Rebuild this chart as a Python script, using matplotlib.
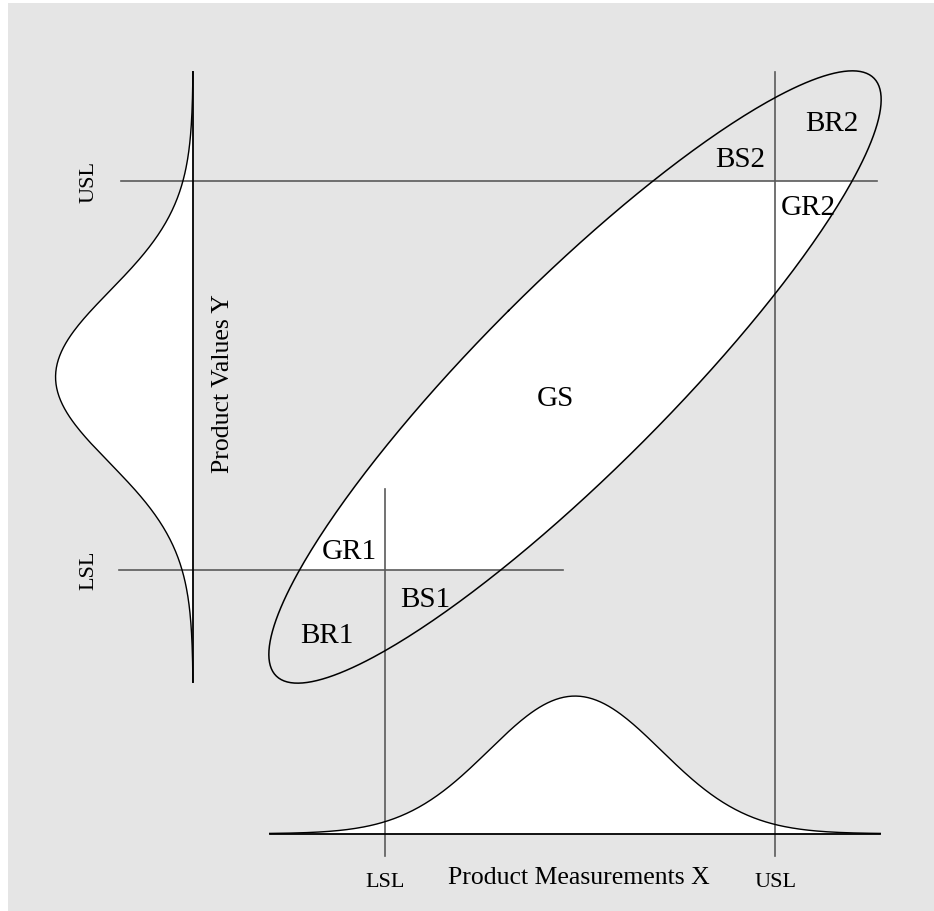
' Schematic of measurement vs true product value with spec limits '
import numpy as np
import matplotlib
matplotlib.use('Agg')
import matplotlib.pyplot as plt
from matplotlib.patches import Rectangle

# process / measurement model (arbitrary units)
mean_x, sd_x = 50, 10          # product measurements X
mean_y, sd_y = 50, 10          # product values Y
rho = 0.906                    # correlation of X and Y
k_contour = 3.56               # ellipse drawn at this many sigmas
x_lsl, x_usl = 27.9, 73.3      # spec limits on X
y_lsl, y_usl = 27.6, 72.8      # spec limits on Y
curve_height = 16              # drawn height of the marginal densities
tail = 3.55                    # marginals drawn out to +/- tail sigmas

region_labels = ['GS', 'GR1', 'BR1', 'BS1', 'BS2', 'BR2', 'GR2']
region_pos = [(47.7, 47.6), (23.8, 29.8), (21.2, 20.0), (32.6, 24.2),
              (69.2, 75.4), (79.9, 79.5), (77.1, 69.8)]

plt.rcParams['font.family'] = ['Liberation Serif', 'DejaVu Serif']
gray = '#e5e5e5'
line_gray = '#5a5a5a'

fig = plt.figure(figsize=(9.34, 9.12), dpi=100, facecolor='white')
ax = fig.add_axes([8 / 934, 0, 926 / 934, 908 / 912], facecolor=gray)
scale = 8.6  # px per unit
ax.set_xlim(mean_x - 567 / scale, mean_x + 359 / scale)
ax.set_ylim(mean_y - 534 / scale, mean_y + 374 / scale)
ax.axis('off')
ax.add_patch(Rectangle((0, 0), 1, 1, transform=ax.transAxes, color=gray, zorder=0))

# joint distribution ellipse
cov = np.array([[sd_x ** 2, rho * sd_x * sd_y], [rho * sd_x * sd_y, sd_y ** 2]])
vals, vecs = np.linalg.eigh(cov)
t = np.linspace(0, 2 * np.pi, 400)
circle = np.vstack([np.cos(t), np.sin(t)])
pts = vecs @ (np.sqrt(vals)[:, None] * circle) * k_contour
ex, ey = pts[0] + mean_x, pts[1] + mean_y

fill = ax.fill(ex, ey, color='white', lw=0, zorder=1)[0]
band = Rectangle((-100, y_lsl), 300, y_usl - y_lsl, transform=ax.transData)
fill.set_clip_path(band)
ax.plot(ex, ey, color='black', lw=1.1, zorder=4)

# marginal of X along bottom
base_y = mean_y - 53.1
xs = np.linspace(mean_x - tail * sd_x, mean_x + tail * sd_x, 300)
px = curve_height * np.exp(-0.5 * ((xs - mean_x) / sd_x) ** 2)
ax.fill_between(xs, base_y, base_y + px, color='white', lw=0, zorder=1)
ax.plot(xs, base_y + px, color='black', lw=1.0, zorder=3)
ax.plot([xs[0], xs[-1]], [base_y, base_y], color='black', lw=1.3, zorder=3)

# marginal of Y along left
base_x = mean_x - 44.4
ys = np.linspace(mean_y - tail * sd_y, mean_y + tail * sd_y, 300)
py = curve_height * np.exp(-0.5 * ((ys - mean_y) / sd_y) ** 2)
ax.fill_betweenx(ys, base_x - py, base_x, color='white', lw=0, zorder=1)
ax.plot(base_x - py, ys, color='black', lw=1.0, zorder=3)
ax.plot([base_x, base_x], [ys[0], ys[-1]], color='black', lw=1.3, zorder=3)

# spec limit lines
ax.plot([-2.8, 85.1], [y_usl, y_usl], color=line_gray, lw=1.2, zorder=2)
ax.plot([-3.0, 48.6], [y_lsl, y_lsl], color=line_gray, lw=1.2, zorder=2)
ax.plot([x_lsl, x_lsl], [-5.7, 37.0], color=line_gray, lw=1.2, zorder=2)
ax.plot([x_usl, x_usl], [-5.7, 85.5], color=line_gray, lw=1.2, zorder=2)

# labels
ax.text(-6.5, y_usl, 'USL', rotation=90, ha='center', va='center', fontsize=16)
ax.text(-6.5, y_lsl, 'LSL', rotation=90, ha='center', va='center', fontsize=16)
ax.text(x_lsl, -9.2, 'LSL', ha='center', va='baseline', fontsize=16)
ax.text(x_usl, -9.2, 'USL', ha='center', va='baseline', fontsize=16)
ax.text(50.4, -8.85, 'Product Measurements X', ha='center', va='baseline', fontsize=18.5)
ax.text(9.1, mean_y - 0.6, 'Product Values Y', rotation=90, ha='center', va='center',
        fontsize=18.5)

for lab, (lx, ly) in zip(region_labels, region_pos):
    ax.text(lx, ly, lab, ha='center', va='center', fontsize=21, zorder=5)

fig.savefig('out.png', dpi=100, facecolor='white')
